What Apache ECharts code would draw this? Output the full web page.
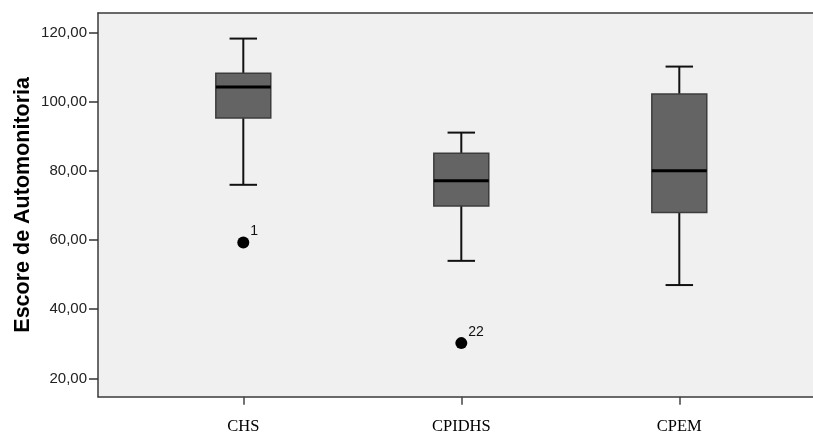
<!DOCTYPE html>
<html>
<head>
<meta charset="utf-8">
<script src="https://cdn.jsdelivr.net/npm/echarts@6/dist/echarts.min.js"></script>
<style>
  html, body { margin: 0; padding: 0; background: #ffffff; }
  #chart { width: 813px; height: 438px; }
</style>
</head>
<body>
<div id="chart"></div>
<script>
// ---- data ----
const categories = ['CHS', 'CPIDHS', 'CPEM'];
const whiskerLow = [76, 54, 47];
const quartile1 = [95.3, 69.9, 68];
const medians = [104.3, 77.2, 80.1];
const quartile3 = [108.3, 85.1, 102.3];
const whiskerHigh = [118.3, 91.1, 110.2];
const outlierCategory = [0, 1];
const outlierValues = [59.3, 30.2];
const outlierLabels = ['1', '22'];
const yTicks = [20, 40, 60, 80, 100, 120];
const yTitle = 'Escore de Automonitoria';

// ---- options ----
const boxData = categories.map((c, i) => [i, whiskerLow[i], quartile1[i], medians[i], quartile3[i], whiskerHigh[i]]);
const outlierData = outlierValues.map((v, k) => ({
  value: [outlierCategory[k], v],
  label: { formatter: outlierLabels[k] }
}));

const yMin = 14.7, yMax = 125.7;
const fmt = v => v.toFixed(2).replace('.', ',');
const frameLine = { show: true, lineStyle: { color: '#3a3a3a', width: 1.5 } };

const chart = echarts.init(document.getElementById('chart'), null, { renderer: 'canvas' });
chart.setOption({
  animation: false,
  backgroundColor: '#ffffff',
  grid: [
    { left: 98, right: 0, top: 13, bottom: 41.3, show: true, backgroundColor: '#f0f0f0', borderWidth: 0, outerBoundsMode: 'none' },
    { left: 134.3, right: 24.7, top: 13, bottom: 41.3, outerBoundsMode: 'none' }
  ],
  xAxis: [
    { gridIndex: 0, type: 'value', min: 0, max: 1, position: 'bottom', axisLine: frameLine, axisTick: { show: false }, axisLabel: { show: false }, splitLine: { show: false } },
    { gridIndex: 0, type: 'value', min: 0, max: 1, position: 'top', axisLine: frameLine, axisTick: { show: false }, axisLabel: { show: false }, splitLine: { show: false } },
    {
      gridIndex: 1, type: 'category', data: categories, boundaryGap: true,
      axisLine: { show: false },
      axisTick: { show: true, alignWithLabel: true, length: 8, lineStyle: { color: '#444', width: 1.5 } },
      axisLabel: { margin: 21, color: '#000', fontFamily: 'Liberation Serif', fontSize: 16.5 }
    }
  ],
  yAxis: [
    {
      gridIndex: 0, type: 'value', min: yMin, max: yMax,
      name: yTitle, nameLocation: 'middle', nameGap: 64, nameMoveOverlap: false,
      nameTextStyle: { fontFamily: 'Liberation Sans', fontWeight: 'bold', fontSize: 21.5, color: '#000' },
      splitLine: { show: false },
      axisLine: frameLine,
      axisTick: { show: true, length: 9, customValues: yTicks, lineStyle: { color: '#333', width: 1.5 } },
      axisLabel: { customValues: yTicks, formatter: fmt, margin: 11, color: '#222', fontFamily: 'Liberation Sans', fontSize: 15 }
    },
    { gridIndex: 1, type: 'value', min: yMin, max: yMax, show: false, splitLine: { show: false } }
  ],
  series: [
    {
      type: 'custom',
      xAxisIndex: 2, yAxisIndex: 1,
      data: boxData,
      renderItem: function (params, api) {
        const x = api.value(0);
        const pLow = api.coord([x, api.value(1)]);
        const pQ1 = api.coord([x, api.value(2)]);
        const pMed = api.coord([x, api.value(3)]);
        const pQ3 = api.coord([x, api.value(4)]);
        const pHigh = api.coord([x, api.value(5)]);
        const band = api.size([1, 0])[0];
        const bw = band * 0.252;
        const cx = pMed[0];
        const half = bw / 2, cap = bw / 4;
        const lineStyle = { stroke: '#111', lineWidth: 2 };
        return {
          type: 'group',
          children: [
            { type: 'line', shape: { x1: cx, y1: pHigh[1], x2: cx, y2: pQ3[1] }, style: lineStyle },
            { type: 'line', shape: { x1: cx, y1: pLow[1], x2: cx, y2: pQ1[1] }, style: lineStyle },
            { type: 'line', shape: { x1: cx - cap, y1: pHigh[1], x2: cx + cap, y2: pHigh[1] }, style: lineStyle },
            { type: 'line', shape: { x1: cx - cap, y1: pLow[1], x2: cx + cap, y2: pLow[1] }, style: lineStyle },
            { type: 'rect', shape: { x: cx - half, y: pQ3[1], width: bw, height: pQ1[1] - pQ3[1] }, style: { fill: '#646464', stroke: '#3c3c3c', lineWidth: 1.5 } },
            { type: 'line', shape: { x1: cx - half, y1: pMed[1], x2: cx + half, y2: pMed[1] }, style: { stroke: '#000', lineWidth: 3 } }
          ]
        };
      }
    },
    {
      type: 'scatter',
      xAxisIndex: 2, yAxisIndex: 1,
      data: outlierData,
      symbol: 'circle', symbolSize: 12,
      itemStyle: { color: '#000', opacity: 1 },
      label: { show: true, position: [13, -12], color: '#111', fontFamily: 'Liberation Sans', fontSize: 14 }
    }
  ]
});
</script>
</body>
</html>
